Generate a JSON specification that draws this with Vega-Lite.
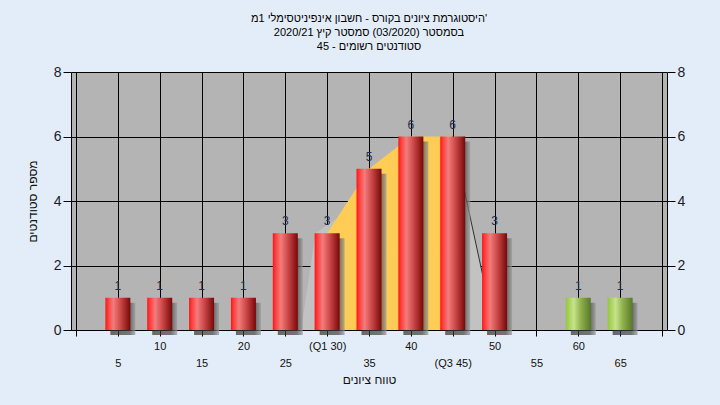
{
  "$schema": "https://vega.github.io/schema/vega-lite/v6.json",
  "width": 596,
  "height": 258,
  "autosize": {"type": "none"},
  "padding": {"left": 71, "top": 72, "right": 53, "bottom": 75},
  "background": "#e3edf9",
  "view": {"fill": "#b4b4b4", "stroke": null},
  "title": {
    "text": ["היסטוגרמת ציונים בקורס - חשבון אינפיניטסימלי 1מ'", "בסמסטר (03/2020) סמסטר קיץ 2020/21", "סטודנטים רשומים - 45"],
    "font": "Liberation Sans",
    "fontSize": 11,
    "fontWeight": "normal",
    "color": "#000000",
    "lineHeight": 14,
    "offset": 13,
    "anchor": "middle"
  },
  "datasets": {
    "hist": [
      {"grade": 5, "count": 1},
      {"grade": 10, "count": 1},
      {"grade": 15, "count": 1},
      {"grade": 20, "count": 1},
      {"grade": 25, "count": 3},
      {"grade": 30, "count": 3},
      {"grade": 35, "count": 5},
      {"grade": 40, "count": 6},
      {"grade": 45, "count": 6},
      {"grade": 50, "count": 3},
      {"grade": 55, "count": 0},
      {"grade": 60, "count": 1},
      {"grade": 65, "count": 1}
    ],
    "iqr": [
      {"grade": 30, "count": 3},
      {"grade": 35, "count": 5},
      {"grade": 40, "count": 6},
      {"grade": 45, "count": 6}
    ],
    "tail": [
      {"grade": 26.9, "count": 0},
      {"grade": 28.6, "count": 3},
      {"grade": 45, "count": 6},
      {"grade": 50, "count": 0}
    ],
    "edge": [
      {"grade": 45, "count": 6},
      {"grade": 50, "count": 0}
    ]
  },
  "data": {"name": "hist"},
  "encoding": {
    "x": {
      "field": "grade", "type": "quantitative", "scale": {"domain": [0, 70], "nice": false, "zero": false},
      "axis": {
        "values": [0, 5, 10, 15, 20, 25, 30, 35, 40, 45, 50, 55, 60, 65, 70],
        "labelExpr": "datum.value == 0 || datum.value == 70 ? '' : datum.value == 30 ? '(Q1 30)' : datum.value == 45 ? '(Q3 45)' : datum.label",
        "grid": true,
        "gridColor": "#000000",
        "gridWidth": 1,
        "gridOpacity": 1,
        "domainColor": "#000000",
        "tickColor": "#000000",
        "tickSize": 6,
        "labelFont": "Liberation Sans",
        "labelFontSize": 11,
        "labelColor": "#111111",
        "labelFlush": false,
        "labelOverlap": false,
        "labelPadding": {"condition": {"test": "datum.value % 10 === 0", "value": 4}, "value": 21},
        "title": "טווח ציונים",
        "titleFont": "Liberation Sans",
        "titleFontSize": 12,
        "titleFontWeight": "normal",
        "titleColor": "#111111",
        "titlePadding": 6
      }
    }
  },
  "resolve": {"scale": {"y": "independent"}},
  "layer": [
    {
      "data": {"name": "tail"},
      "mark": {"type": "area", "color": "#c2c2c2", "opacity": 1},
      "encoding": {
        "y": {"field": "count", "type": "quantitative", "scale": {"domain": [0, 8], "nice": false}, "axis": null}
      }
    },
    {
      "data": {"name": "iqr"},
      "mark": {"type": "area", "color": "#ffcc55", "opacity": 1},
      "encoding": {
        "y": {"field": "count", "type": "quantitative", "scale": {"domain": [0, 8], "nice": false}, "axis": null}
      }
    },
    {
      "data": {"name": "edge"},
      "mark": {"type": "line", "color": "#303030", "strokeWidth": 1},
      "encoding": {
        "y": {"field": "count", "type": "quantitative", "scale": {"domain": [0, 8], "nice": false}, "axis": null}
      }
    },
    {
      "transform": [{"filter": "datum.count > 0"}],
      "mark": {
        "type": "bar",
        "width": 25,
        "xOffset": 5,
        "yOffset": 5,
        "opacity": 0.7,
        "color": {
          "gradient": "linear",
          "x1": 0, "y1": 0, "x2": 1, "y2": 0,
          "stops": [
            {"offset": 0, "color": "#303030"},
            {"offset": 0.75, "color": "#404040"},
            {"offset": 1, "color": "#9a9a9a"}
          ]
        }
      },
      "encoding": {
        "y": {
          "field": "count", "type": "quantitative", "scale": {"domain": [0, 8], "nice": false},
          "axis": {
            "orient": "right",
            "values": [0, 2, 4, 6, 8],
            "grid": false,
            "title": null,
            "domainColor": "#000000",
            "tickColor": "#000000",
            "tickSize": 8,
            "labelFont": "Liberation Sans",
            "labelFontSize": 14,
            "labelColor": "#1a1a2a",
            "labelPadding": 2
          }
        }
      }
    },
    {
      "transform": [{"filter": "datum.grade < 60"}],
      "mark": {
        "type": "bar",
        "width": 25,
        "color": {
          "gradient": "linear",
          "x1": 0, "y1": 0, "x2": 1, "y2": 0,
          "stops": [
            {"offset": 0, "color": "#ff1414"},
            {"offset": 0.1, "color": "#ff3a3a"},
            {"offset": 0.32, "color": "#f27c7c"},
            {"offset": 0.55, "color": "#d45252"},
            {"offset": 0.8, "color": "#a42828"},
            {"offset": 1, "color": "#760808"}
          ]
        }
      },
      "encoding": {
        "y": {
          "field": "count", "type": "quantitative", "scale": {"domain": [0, 8], "nice": false},
          "axis": {
            "values": [0, 2, 4, 6, 8],
            "grid": true,
            "gridColor": "#000000",
            "gridWidth": 1,
            "gridOpacity": 1,
            "domainColor": "#000000",
            "tickColor": "#000000",
            "tickSize": 8,
            "labelFont": "Liberation Sans",
            "labelFontSize": 14,
            "labelColor": "#1a1a2a",
            "labelPadding": 2,
            "title": "מספר סטודנטים",
            "titleFont": "Liberation Sans",
            "titleFontSize": 12,
            "titleFontWeight": "normal",
            "titleColor": "#111111",
            "titlePadding": 14
          }
        }
      }
    },
    {
      "transform": [{"filter": "datum.grade >= 60"}],
      "mark": {
        "type": "bar",
        "width": 25,
        "color": {
          "gradient": "linear",
          "x1": 0, "y1": 0, "x2": 1, "y2": 0,
          "stops": [
            {"offset": 0, "color": "#94c63a"},
            {"offset": 0.32, "color": "#c6e38c"},
            {"offset": 0.6, "color": "#8fb24c"},
            {"offset": 1, "color": "#587828"}
          ]
        }
      },
      "encoding": {
        "y": {"field": "count", "type": "quantitative", "scale": {"domain": [0, 8], "nice": false}, "axis": null}
      }
    },
    {
      "transform": [{"filter": "datum.count > 0"}],
      "mark": {"type": "text", "baseline": "bottom", "dy": -5, "font": "Liberation Sans", "fontSize": 12, "color": "#1f2f4f"},
      "encoding": {
        "y": {"field": "count", "type": "quantitative", "scale": {"domain": [0, 8], "nice": false}, "axis": null},
        "text": {"field": "count", "type": "quantitative"}
      }
    },
    {
      "data": {"values": [{"label": "במשימה : Exam_A"}]},
      "mark": {"type": "text", "font": "Liberation Sans", "fontSize": 11, "color": "#202020"},
      "encoding": {
        "x": {"datum": 35, "type": "quantitative"},
        "y": {"datum": 7.57, "type": "quantitative", "scale": {"domain": [0, 8], "nice": false}, "axis": null},
        "text": {"field": "label", "type": "nominal"}
      }
    }
  ]
}
